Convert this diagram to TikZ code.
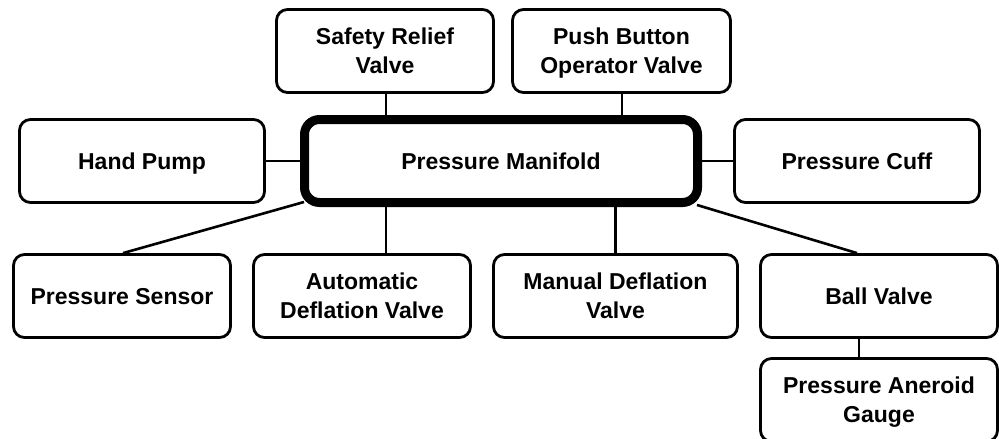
\documentclass[tikz,border=0pt]{standalone}
\usepackage{fontspec}
\setmainfont{Liberation Sans}
\usetikzlibrary{backgrounds}
\begin{document}
\begin{tikzpicture}[x=1pt,y=-1pt,
  box/.style={draw=black, line width=2.8pt, rounded corners=11pt, fill=white,
    align=center, inner sep=0pt, minimum height=83pt, text depth=0pt,
    font=\fontsize{23}{29}\selectfont\bfseries},
  hub/.style={box, line width=9pt, rounded corners=15pt},
  link/.style={draw=black, line width=2.6pt}]
\useasboundingbox (0,0) rectangle (999,439);
\node[box, minimum width=217pt] (srv) at (385,51) {Safety Relief\\Valve};
\node[box, minimum width=218pt] (pbo) at (621.5,51) {Push Button\\Operator Valve};
\node[box, minimum width=245pt] (hp) at (142,161) {Hand Pump};
\node[box, minimum width=245pt] (pc) at (857,161) {Pressure Cuff};
\node[box, minimum width=217pt] (ps) at (122,296) {Pressure Sensor};
\node[box, minimum width=217pt] (adv) at (362,296) {Automatic\\Deflation Valve};
\node[box, minimum width=244pt] (mdv) at (615.5,296) {Manual Deflation\\Valve};
\node[box, minimum width=237pt] (bv) at (879,296) {Ball Valve};
\node[box, minimum width=237pt] (gauge) at (879,400) {Pressure Aneroid\\Gauge};
\coordinate (xa) at (386,0);
\coordinate (xb) at (622,0);
\coordinate (xc) at (859,0);
\node[hub, minimum width=393pt] (man) at (501,161) {Pressure Manifold};
\begin{scope}[on background layer]
\path[link] (srv.south -| xa) -- (man.north -| xa);
\path[link] (pbo.south -| xb) -- (man.north -| xb);
\path[link] (hp.east) -- (man.west);
\path[link] (pc.west) -- (man.east);
\path[link] (man.south -| xa) -- (adv.north -| xa);
\path[link] (mdv.north) -- (mdv.north |- man.south);
\path[link] ([shift={(4,-5)}]man.south west) -- ([xshift=1pt]ps.north);
\path[link] ([shift={(-5,-2)}]man.south east) -- (bv.north -| pc.south);
\path[link] (bv.south -| xc) -- (gauge.north -| xc);
\end{scope}
\end{tikzpicture}
\end{document}
